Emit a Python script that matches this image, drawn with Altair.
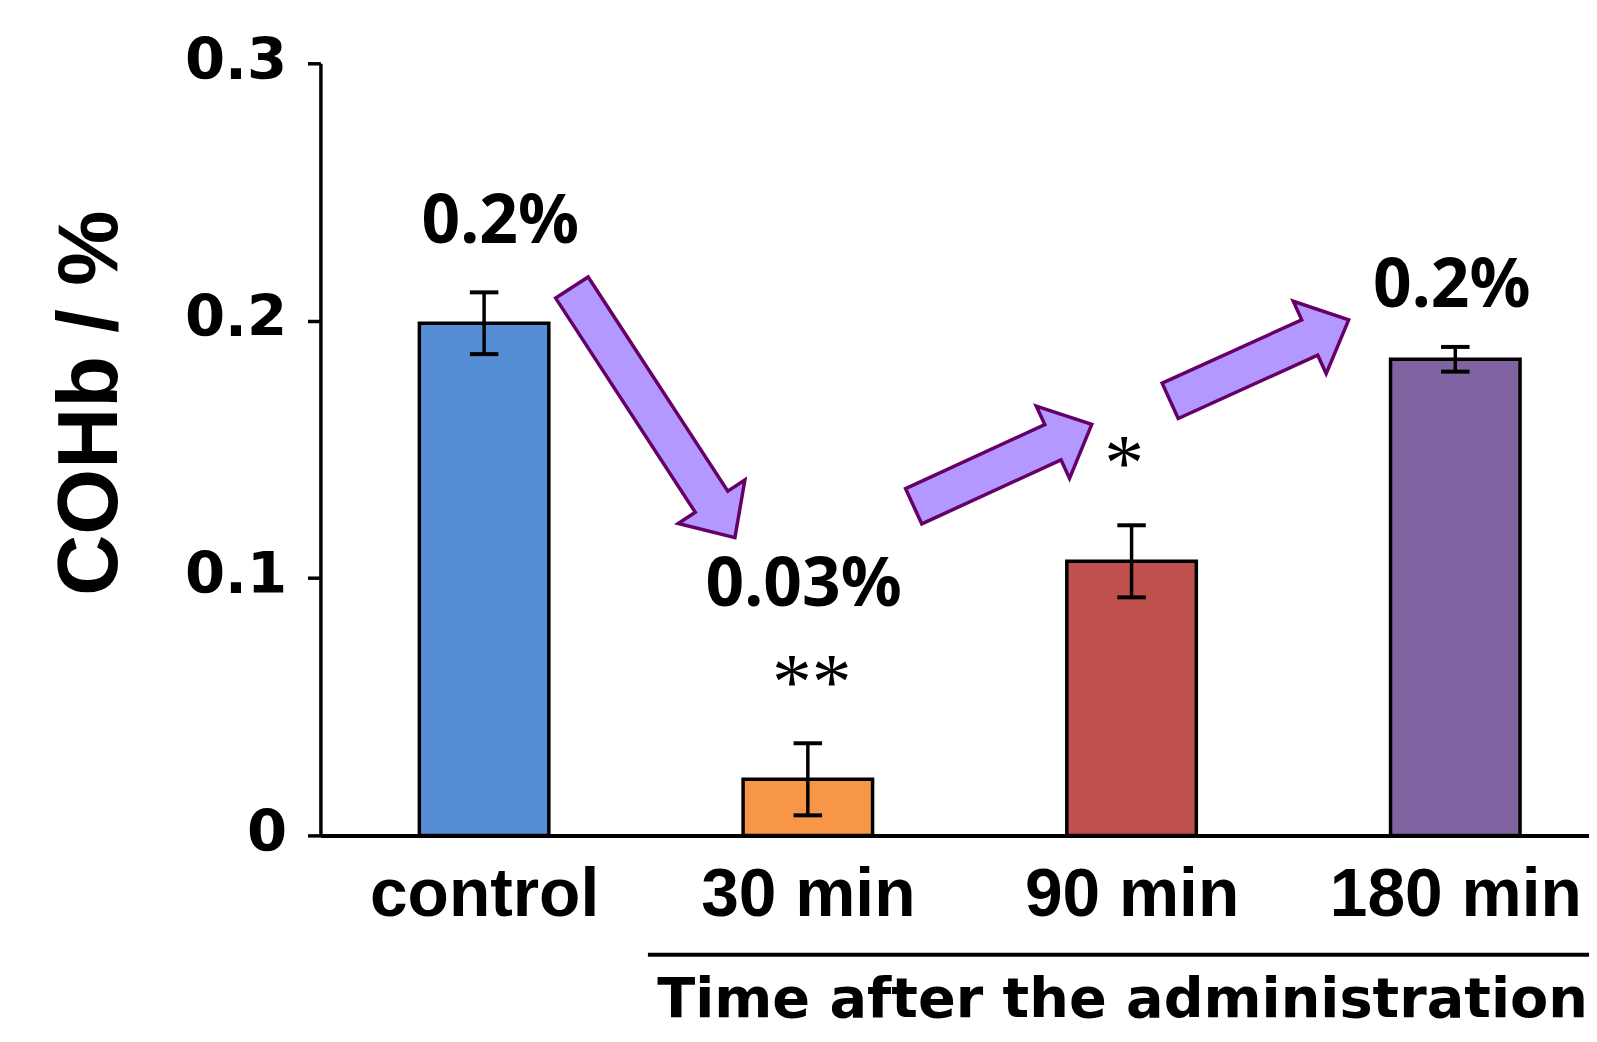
import json
import altair as alt
import pandas as pd

# ---- data -------------------------------------------------------------
categories = ["control", "30 min", "90 min", "180 min"]
means = [0.199, 0.0218, 0.1065, 0.185]
errors = [0.012, 0.014, 0.014, 0.0048]
bar_colors = ["#558ED5", "#F79646", "#C0504D", "#8064A2"]
y_ticks = [0, 0.1, 0.2, 0.3]

# annotation texts (anchored in data units)
pct_labels = ["0.2%", "0.03%", "0.2%"]
pct_x = [0.05, 0.987, 2.989]
pct_y = [0.230, 0.0893, 0.2055]

star_labels = ["**", "*"]
star_x = [1.012, 1.977]
star_y = [0.0491, 0.1341]

# block arrows (centre in data units, direction in degrees clockwise)
arrow_x = [0.523, 1.602, 2.395]
arrow_y = [0.1643, 0.1438, 0.1846]
arrow_angle = [56.9, 335.3, 335.6]
arrow_len = [300, 197, 197]

# underline of the time-axis title
underline_x = [0.506]
underline_x2 = [3.7]
underline_y = [-0.0464]

# ---- helpers ----------------------------------------------------------
def arrow_path(length, shaft=39.0, head=80.0, head_len=43.0):
    u = length / 2.0
    s = shaft / 2.0 / u
    h = head / 2.0 / u
    b = 1.0 - head_len / u
    return (f"M-1,{-s:.4f}L{b:.4f},{-s:.4f}L{b:.4f},{-h:.4f}L1,0"
            f"L{b:.4f},{h:.4f}L{b:.4f},{s:.4f}L-1,{s:.4f}Z")


xs = alt.Scale(domain=[-0.5056, 3.413], nice=False, zero=False)
ys = alt.Scale(domain=[0, 0.3], nice=False, zero=False)

AX_FONT = "Liberation Sans, Arial, sans-serif"
HEAVY_FONT = "DejaVu Sans, Liberation Sans, sans-serif"

x_axis = alt.Axis(
    values=[0, 1, 2, 3],
    labelExpr=f"{json.dumps(categories)}[datum.value]",
    labelFont=AX_FONT, labelFontSize=68, labelFontWeight="bold", labelColor="black",
    labelPadding=27, labelLimit=0, labelOverlap=False, labelFlush=False, labelAlign="center",
    ticks=False, tickSize=0, grid=False,
    domainColor="black", domainWidth=4,
    title="Time after the administration",
    titleFont=HEAVY_FONT, titleFontSize=56, titleFontWeight="bold", titleColor="black",
    titleX=338, titleY=182, titleAlign="left", titleBaseline="alphabetic", titleLimit=0,
)

y_axis = alt.Axis(
    values=y_ticks, format="~g",
    labelFont=HEAVY_FONT, labelFontSize=58, labelFontWeight="bold", labelColor="black",
    labelPadding=21, labelLimit=0, labelBaseline="alphabetic", labelOffset=15,
    tickSize=13, tickWidth=3.5, tickColor="black", grid=False,
    domainColor="black", domainWidth=3.5,
    title="COHb / %",
    titleFont=AX_FONT, titleFontSize=85, titleFontWeight="bold", titleColor="black",
    titleAngle=270, titleX=-205, titleY=341, titleAlign="center", titleBaseline="alphabetic",
    titleLimit=0,
)


def X(field):
    return alt.X(field, scale=xs, axis=x_axis)


def Y(field):
    return alt.Y(field, scale=ys, axis=y_axis)


bars_df = pd.DataFrame({
    "cat": categories, "idx": list(range(len(categories))),
    "mean": means, "err": errors, "color": bar_colors,
})
base = alt.Chart(bars_df)

bars = base.transform_calculate(
    x0="datum.idx - 0.2", x1="datum.idx + 0.2"
).mark_bar(stroke="black", strokeWidth=3.5).encode(
    x=X("x0:Q"),
    x2="x1:Q",
    y=Y("mean:Q"),
    y2=alt.datum(0),
    color=alt.Color("color:N", scale=None),
)

err_lines = base.transform_calculate(
    lo="datum.mean - datum.err", hi="datum.mean + datum.err"
).mark_rule(color="black", strokeWidth=3.5).encode(
    x=X("idx:Q"),
    y=Y("lo:Q"),
    y2="hi:Q",
)

caps = base.transform_calculate(
    lo="datum.mean - datum.err", hi="datum.mean + datum.err",
    cx0="datum.idx - 0.044", cx1="datum.idx + 0.044",
).transform_fold(["lo", "hi"], as_=["which", "v"]).mark_rule(
    color="black", strokeWidth=4
).encode(
    x=X("cx0:Q"),
    x2="cx1:Q",
    y=Y("v:Q"),
)

arrow_df = pd.DataFrame({
    "x": arrow_x, "y": arrow_y, "angle": arrow_angle,
    "path": [arrow_path(l) for l in arrow_len],
    "size": [l * l for l in arrow_len],
})
arrows = alt.Chart(arrow_df).mark_point(
    filled=True, fill="#B399FF", stroke="#660066", strokeWidth=3.5,
    opacity=1, fillOpacity=1, strokeOpacity=1, strokeJoin="miter",
).encode(
    x=X("x:Q"),
    y=Y("y:Q"),
    shape=alt.Shape("path:N", scale=None),
    size=alt.Size("size:Q", scale=None),
    angle=alt.Angle("angle:Q", scale=None),
)

pct_df = pd.DataFrame({"t": pct_labels, "x": pct_x, "y": pct_y})
pcts = alt.Chart(pct_df).mark_text(
    font="Noto Sans, Lato, sans-serif", fontSize=68, fontWeight="bold",
    color="black", align="center", baseline="alphabetic",
).encode(
    x=X("x:Q"),
    y=Y("y:Q"),
    text="t:N",
)

star_df = pd.DataFrame({"t": star_labels, "x": star_x, "y": star_y})
stars = alt.Chart(star_df).mark_text(
    font="Liberation Serif, Times New Roman, serif", fontSize=80,
    color="black", align="center", baseline="alphabetic",
).encode(
    x=X("x:Q"),
    y=Y("y:Q"),
    text="t:N",
)

ul_df = pd.DataFrame({"x": underline_x, "x2": underline_x2, "y": underline_y})
underline = alt.Chart(ul_df).mark_rule(color="black", strokeWidth=4).encode(
    x=X("x:Q"),
    x2="x2:Q",
    y=Y("y:Q"),
)

chart = alt.layer(
    bars, err_lines, caps, arrows, pcts, stars, underline
).properties(
    width=1275, height=776,
    autosize=alt.AutoSizeParams(type="none"),
    padding={"left": 314, "top": 53, "right": 0, "bottom": 193},
    background="white",
).configure_view(stroke=None)

chart.save("out.html", embed_options={"renderer": "svg", "actions": False})
